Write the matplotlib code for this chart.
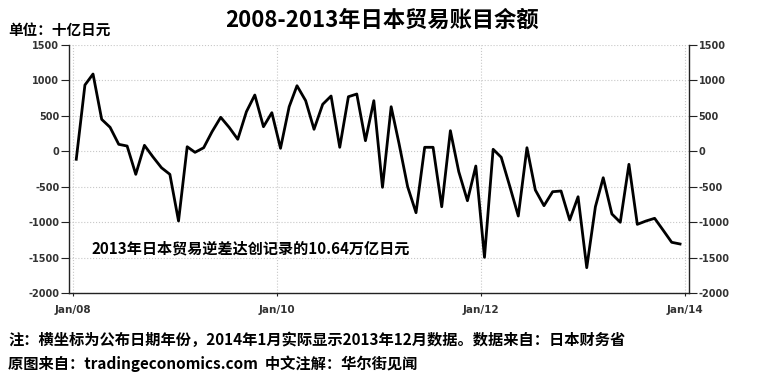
import pandas as pd
import matplotlib
matplotlib.use("Agg")
import matplotlib.pyplot as plt

plt.rcParams["axes.unicode_minus"] = False
cjk = ["Noto Sans CJK SC", "DejaVu Sans"]

# Monthly trade balance, billion yen (by release month), Jan 2008 - Dec 2013
balance = [
    -111, 936, 1091, 452, 340, 100, 76, -323, 86, -75, -230, -323,
    -981, 66, -13, 52, 278, 481, 340, 171, 560, 795, 348, 546,
    44, 630, 926, 715, 312, 664, 781, 58, 771, 809, 151, 715,
    -506, 630, 114, -498, -864, 58, 58, -780, 292, -286, -695, -206,
    -1493, 30, -83, -498, -911, 52, -544, -765, -568, -558, -967, -639,
    -1639, -780, -371, -882, -999, -182, -1028, -981, -943, -1108, -1281, -1305,
]
dates = pd.date_range("2008-01-01", periods=len(balance), freq="MS") + pd.Timedelta(days=13)

yticks = [-2000, -1500, -1000, -500, 0, 500, 1000, 1500]
xticks = pd.to_datetime(["2008-01-01", "2010-01-01", "2012-01-01", "2014-01-01"])
xlabels = ["Jan/08", "Jan/10", "Jan/12", "Jan/14"]

title = "2008-2013年日本贸易账目余额"
unit = "单位：十亿日元"
note = "2013年日本贸易逆差达创记录的10.64万亿日元"
foot1 = "注：横坐标为公布日期年份，2014年1月实际显示2013年12月数据。数据来自：日本财务省"
foot2 = "原图来自：tradingeconomics.com  中文注解：华尔街见闻"

fig = plt.figure(figsize=(7.67, 3.77), dpi=100)
ax = fig.add_axes([69 / 767, 83.7 / 377, 620 / 767, 248.3 / 377])

ax.plot(dates, balance, color="black", linewidth=2)

ax.set_ylim(-2000, 1500)
ax.set_xlim(pd.Timestamp("2007-12-19"), pd.Timestamp("2014-01-15"))
ax.set_yticks(yticks)
ax.set_xticks(xticks)
ax.set_xticklabels(xlabels)

ax.grid(True, color="#c8c8c8", linestyle=":", linewidth=0.8)
ax.spines["top"].set_visible(False)
for s in ["left", "right", "bottom"]:
    ax.spines[s].set_color("#222222")
    ax.spines[s].set_linewidth(1.0)

ax.tick_params(axis="y", left=True, right=True, labelleft=True, labelright=True,
               length=6, pad=1, labelsize=7, labelcolor="#333333", color="#222222")
ax.tick_params(axis="x", length=2.5, pad=6, labelsize=7.5, labelcolor="#333333", color="#222222")
for lab in ax.get_yticklabels() + ax.get_xticklabels():
    lab.set_fontweight("bold")

ax.text(0.037, 0.182, note, transform=ax.transAxes, va="center", ha="left",
        fontsize=10.9, fontweight="bold", family=cjk)

fig.text(0.498, 0.947, title, ha="center", va="center", fontsize=16,
         fontweight="bold", family=cjk)
fig.text(0.0104, 0.920, unit, ha="left", va="center", fontsize=10.5,
         fontweight="bold", family=cjk)
fig.text(0.0104, 0.098, foot1, ha="left", va="center", fontsize=11,
         fontweight="bold", family=cjk)
fig.text(0.0104, 0.034, foot2, ha="left", va="center", fontsize=11,
         fontweight="bold", family=cjk)

fig.savefig("out.png", dpi=100)
